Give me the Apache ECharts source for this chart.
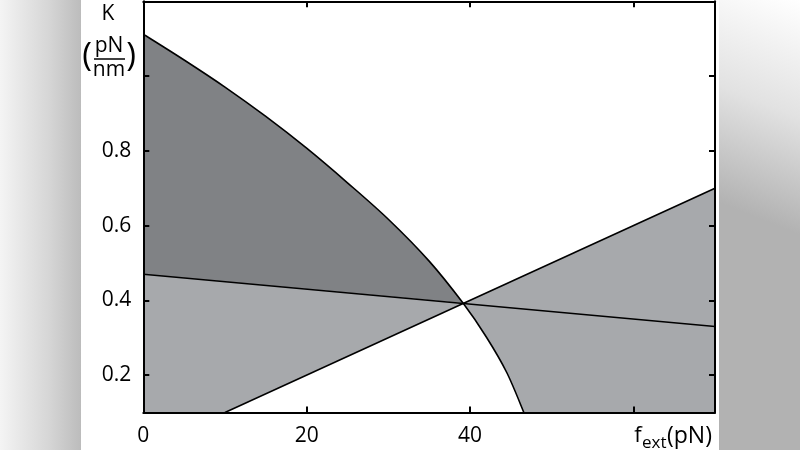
<!DOCTYPE html>
<html><head><meta charset="utf-8">
<script src="https://cdn.jsdelivr.net/npm/echarts@6/dist/echarts.min.js"></script>
<style>html,body{margin:0;padding:0;background:#fff}#c{width:800px;height:450px}</style>
</head><body><div id="c"></div>
<script>
// Curved boundary
const curveX = [0, 5, 10, 15, 20, 25, 30, 35, 39.17, 42, 44.5, 46.6];
const curveY = [1.112, 1.043, 0.9705, 0.892, 0.807, 0.7145, 0.617, 0.505, 0.392, 0.302, 0.207, 0.1];
// Straight boundaries
const line2X = [0, 70];
const line2Y = [0.47, 0.33];
const line3X = [10, 70];
const line3Y = [0.1, 0.7];
// Common crossing point
const crossX = 39.17;
const crossY = 0.392;
// Axis ranges and ticks
const xMin = 0, xMax = 70, yMin = 0.1, yMax = 1.2;
const xTickValues = [0, 20, 40, 60];
const xLabelValues = [0, 20, 40];
const yTickValues = [0.2, 0.4, 0.6, 0.8, 1.0, 1.2];
const yLabelValues = [0.2, 0.4, 0.6, 0.8];

const DARK = '#808285';
const LIGHT = '#a7a9ac';
const FONT = '"Open Sans", "Noto Sans", sans-serif';

const ci = curveX.indexOf(crossX);
const chart = echarts.init(document.getElementById('c'));

const axisLineStyle = {show: true, onZero: false, lineStyle: {color: '#000', width: 2}};
function xAxisDef(pos, showLabel) {
  return {
    type: 'value', position: pos, min: xMin, max: xMax, interval: 20, z: 10,
    axisLine: axisLineStyle,
    axisTick: {show: true, inside: true, length: 6, customValues: xTickValues, lineStyle: {color: '#000', width: 2}},
    axisLabel: {show: showLabel, customValues: xLabelValues, color: '#000', fontSize: 21, fontFamily: FONT, margin: 13},
    splitLine: {show: false}
  };
}
function yAxisDef(pos, showLabel) {
  return {
    type: 'value', position: pos, min: yMin, max: yMax, z: 10,
    axisLine: axisLineStyle,
    axisTick: {show: true, inside: true, length: 6, customValues: yTickValues, lineStyle: {color: '#000', width: 2}},
    axisLabel: {show: showLabel, customValues: yLabelValues, color: '#000', fontSize: 21, fontFamily: FONT, margin: 12,
      formatter: v => Number(v).toFixed(1)},
    splitLine: {show: false}
  };
}

function renderRegions(params, api) {
  if (params.dataIndex !== 0) return null;
  const c = (x, y) => api.coord([x, y]);
  const P = curveX.map((x, i) => c(x, curveY[i]));
  const n = P.length;
  const segs = [];
  for (let i = 0; i < n - 1; i++) {
    const p0 = P[Math.max(i - 1, 0)], p1 = P[i], p2 = P[i + 1], p3 = P[Math.min(i + 2, n - 1)];
    segs.push({
      p1: p1, p2: p2,
      c1: [p1[0] + (p2[0] - p0[0]) / 6, p1[1] + (p2[1] - p0[1]) / 6],
      c2: [p2[0] - (p3[0] - p1[0]) / 6, p2[1] - (p3[1] - p1[1]) / 6]
    });
  }
  const f = p => p[0].toFixed(2) + ',' + p[1].toFixed(2);
  const M = p => 'M' + f(p);
  const L = p => ' L' + f(p);
  const fwd = (a, b) => { let s = ''; for (let i = a; i < b; i++) s += ' C' + f(segs[i].c1) + ' ' + f(segs[i].c2) + ' ' + f(segs[i].p2); return s; };
  const rev = (a, b) => { let s = ''; for (let i = b - 1; i >= a; i--) s += ' C' + f(segs[i].c2) + ' ' + f(segs[i].c1) + ' ' + f(segs[i].p1); return s; };

  const X = c(crossX, crossY);
  const l2a = c(line2X[0], line2Y[0]), l2b = c(line2X[1], line2Y[1]);
  const l3a = c(line3X[0], line3Y[0]), l3b = c(line3X[1], line3Y[1]);
  const bl = c(xMin, yMin), br = c(xMax, yMin);

  const dark = M(P[0]) + fwd(0, ci) + L(l2a) + ' Z';
  const lightL = M(bl) + L(l2a) + L(X) + L(l3a) + ' Z';
  const lightR = M(X) + L(l3b) + L(br) + L(P[n - 1]) + rev(ci, n - 1) + ' Z';
  const curveStroke = M(P[0]) + fwd(0, n - 1);
  const stroke = {stroke: '#000', lineWidth: 1.6, fill: null, lineJoin: 'round'};

  return {
    type: 'group',
    children: [
      {type: 'path', shape: {pathData: dark}, style: {fill: DARK, stroke: null}},
      {type: 'path', shape: {pathData: lightL}, style: {fill: LIGHT, stroke: null}},
      {type: 'path', shape: {pathData: lightR}, style: {fill: LIGHT, stroke: null}},
      {type: 'path', shape: {pathData: curveStroke}, style: stroke},
      {type: 'line', shape: {x1: l2a[0], y1: l2a[1], x2: l2b[0], y2: l2b[1]}, style: stroke},
      {type: 'line', shape: {x1: l3a[0], y1: l3a[1], x2: l3b[0], y2: l3b[1]}, style: stroke}
    ]
  };
}

const sideLeft = new echarts.graphic.LinearGradient(0, 0, 1, 0, [
  {offset: 0, color: '#f4f4f4'}, {offset: 0.6, color: '#d6d6d6'}, {offset: 1, color: '#bcbcbc'}]);
const sideRight = new echarts.graphic.LinearGradient(1, 0, 0, 0.45, [
  {offset: 0, color: '#ffffff'}, {offset: 0.5, color: '#e2e2e2'}, {offset: 1, color: '#b2b2b2'}]);

chart.setOption({
  animation: false,
  backgroundColor: '#fff',
  grid: {left: 143.3, top: 1.3, width: 571.7, height: 411.2, containLabel: false},
  xAxis: [xAxisDef('bottom', true), xAxisDef('top', false)],
  yAxis: [yAxisDef('left', true), yAxisDef('right', false)],
  series: [{
    type: 'custom', coordinateSystem: 'cartesian2d', clip: true, z: 2,
    data: [[crossX, crossY]],
    renderItem: renderRegions
  }],
  graphic: [
    {type: 'rect', shape: {x: 0, y: 0, width: 81, height: 450}, style: {fill: sideLeft}, silent: true},
    {type: 'rect', shape: {x: 719, y: 0, width: 81, height: 450}, style: {fill: sideRight}, silent: true},
    {type: 'text', style: {text: 'K', x: 108, y: 14, align: 'center', verticalAlign: 'middle', fontSize: 21, fontFamily: FONT, fill: '#000'}},
    {type: 'text', style: {text: '(', x: 87, y: 57, align: 'center', verticalAlign: 'middle', fontSize: 33, fontFamily: FONT, fill: '#000'}},
    {type: 'text', style: {text: 'pN', x: 109, y: 46, align: 'center', verticalAlign: 'middle', fontSize: 21, fontFamily: FONT, fill: '#000'}},
    {type: 'line', shape: {x1: 94, y1: 59, x2: 125, y2: 59}, style: {stroke: '#000', lineWidth: 1.5}},
    {type: 'text', style: {text: 'nm', x: 109, y: 70, align: 'center', verticalAlign: 'middle', fontSize: 21, fontFamily: FONT, fill: '#000'}},
    {type: 'text', style: {text: ')', x: 131, y: 57, align: 'center', verticalAlign: 'middle', fontSize: 33, fontFamily: FONT, fill: '#000'}},
    {type: 'text', style: {text: 'f', x: 638, y: 436, align: 'center', verticalAlign: 'middle', fontSize: 22, fontFamily: FONT, fill: '#000'}},
    {type: 'text', style: {text: 'ext', x: 642, y: 443, align: 'left', verticalAlign: 'middle', fontSize: 17, fontFamily: FONT, fill: '#000'}},
    {type: 'text', style: {text: '(pN)', x: 667, y: 436, align: 'left', verticalAlign: 'middle', fontSize: 23, fontFamily: FONT, fill: '#000'}}
  ]
});
</script>
</body></html>
